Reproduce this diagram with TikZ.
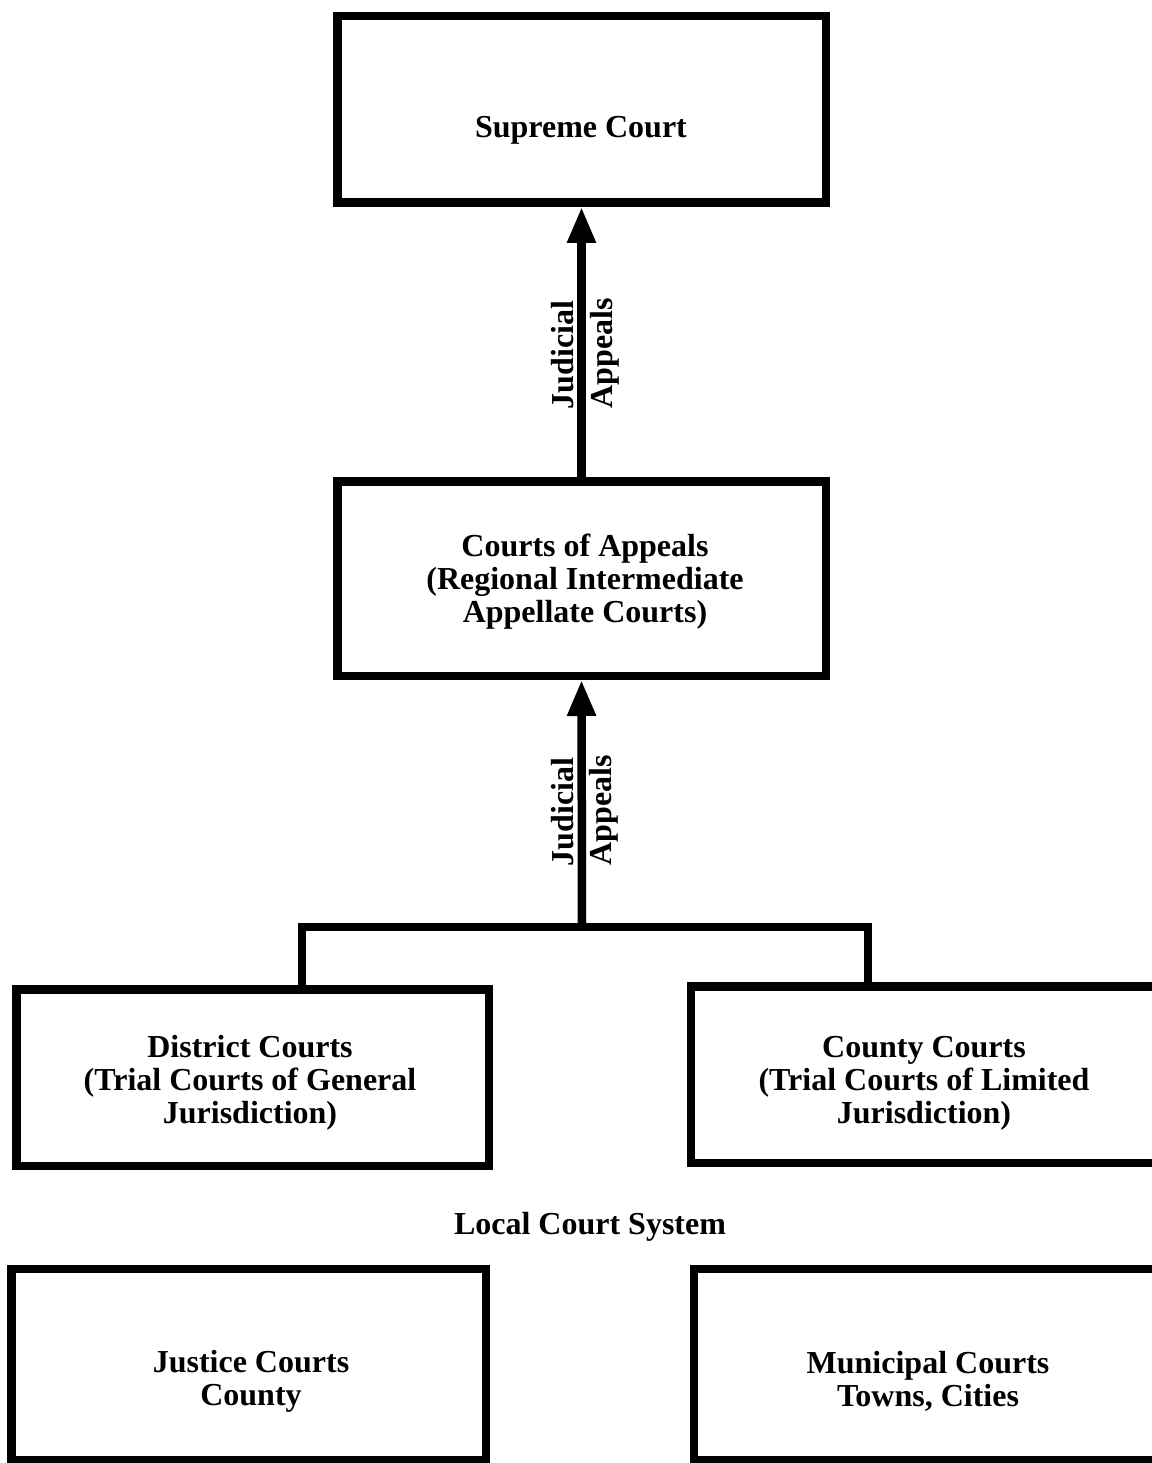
\documentclass[tikz,border=0pt]{standalone}
\usepackage{fontspec}
\setmainfont{Liberation Serif}
\usetikzlibrary{arrows.meta}
\begin{document}
\begin{tikzpicture}[x=1pt,y=-1pt,
  courtbox/.style={draw=black,line width=8.5pt,rectangle,inner sep=0pt},
  txt/.style={font=\fontsize{32}{33}\selectfont\bfseries,align=center,inner sep=0pt},
  vlabel/.style={font=\fontsize{32}{33}\selectfont\bfseries,rotate=90,inner sep=0pt},
  link/.style={line width=8.5pt,line join=miter},
  appeal/.style={line width=8.5pt,-{Triangle[length=36pt,width=27pt]}}]
\useasboundingbox[fill=white] (0,0) rectangle (1151,1463);

% boxes
\node[courtbox,minimum width=488.5pt,minimum height=186.5pt] (supreme) at (581.5,109.5) {};
\node[courtbox,minimum width=488.5pt,minimum height=194.5pt] (appeals) at (581.5,578.5) {};
\node[courtbox,minimum width=472.5pt,minimum height=176.5pt] (district) at (252.5,1077.5) {};
\node[courtbox,minimum width=470.5pt,minimum height=176.5pt] (county) at (926,1074.5) {};
\node[courtbox,minimum width=474.5pt,minimum height=191.5pt] (justice) at (248.5,1364.5) {};
\node[courtbox,minimum width=468.5pt,minimum height=191.5pt] (municipal) at (928,1364.5) {};

% texts
\node[txt,anchor=base] (tsupreme) at (581,138) {Supreme Court};
\node[txt] (tappeals) at (585,582) {Courts of Appeals\\(Regional Intermediate\\Appellate Courts)};
\node[txt] (tdistrict) at (250,1083) {District Courts\\(Trial Courts of General\\Jurisdiction)};
\node[txt] (tcounty) at (924,1083) {County Courts\\(Trial Courts of Limited\\Jurisdiction)};
\node[txt] (tlocal) at (590,1227) {Local Court System};
\node[txt] (tjustice) at (251,1381) {Justice Courts\\County};
\node[txt] (tmunicipal) at (928,1381) {Municipal Courts\\Towns, Cities};

% upper appeal
\draw[appeal] (appeals.north) -- (supreme.south);
\node[vlabel] (jud1) at (563,355) {Judicial};
\node[vlabel] (app1) at (605,353) {Appeals};

% junction and lower appeal
\coordinate (jc) at (582,927);
\coordinate (jl) at (302,927);
\coordinate (jr) at (868,927);
\draw[link] (district.north -| jl) -- (jl) -- (jr) -- (county.north -| jr);
\draw[appeal] (jc) -- (appeals.south);
\node[vlabel] (jud2) at (563,812) {Judicial};
\node[vlabel] (app2) at (604,810) {Appeals};
\end{tikzpicture}
\end{document}
